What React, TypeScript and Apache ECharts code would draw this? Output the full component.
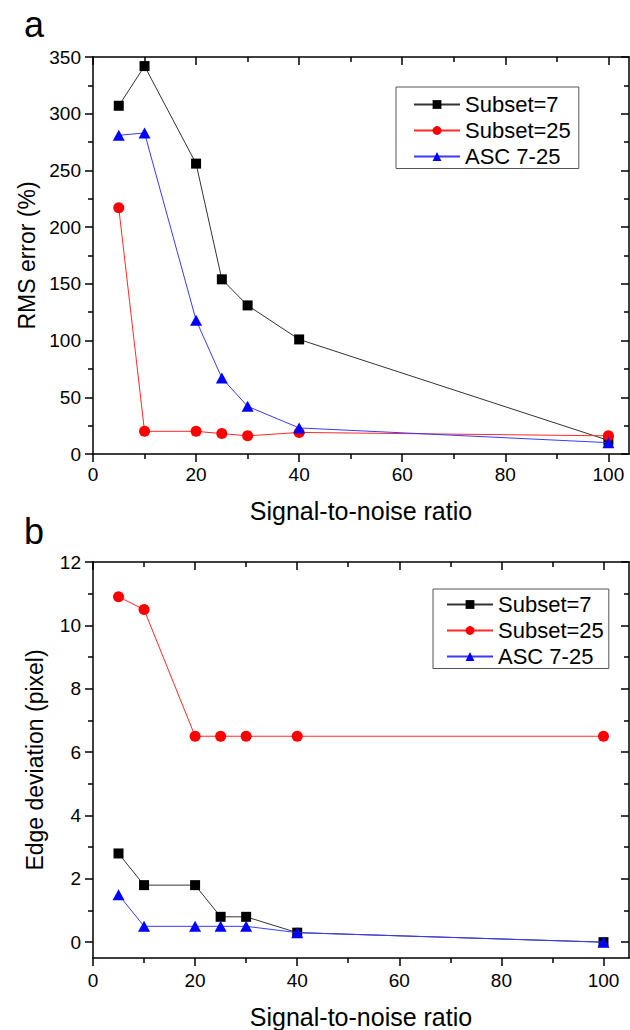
import React, { useEffect, useRef } from 'react';
import * as echarts from 'echarts';

// ---- data ----
const snr = [5, 10, 20, 25, 30, 40, 100];
const seriesNames = ['Subset=7', 'Subset=25', 'ASC 7-25'];
const rmsSubset7 = [307, 342, 256, 154, 131, 101, 12];
const rmsSubset25 = [217, 20, 20, 18, 16, 19, 16];
const rmsAsc = [281, 283, 118, 67, 42, 23, 10];
const edgeSubset7 = [2.8, 1.8, 1.8, 0.8, 0.8, 0.3, 0];
const edgeSubset25 = [10.9, 10.5, 6.5, 6.5, 6.5, 6.5, 6.5];
const edgeAsc = [1.5, 0.5, 0.5, 0.5, 0.5, 0.3, 0];

// ---- ticks ----
const xMajorTicks = [0, 20, 40, 60, 80, 100];
const xMinorTicks = [10, 30, 50, 70, 90];
const rmsMajorTicks = [0, 50, 100, 150, 200, 250, 300, 350];
const rmsMinorTicks = [25, 75, 125, 175, 225, 275, 325];
const edgeMajorTicks = [0, 2, 4, 6, 8, 10, 12];
const edgeMinorTicks = [1, 3, 5, 7, 9, 11];

const FONT = '"Liberation Sans", Arial, Helvetica, sans-serif';
const AXIS_W = 1.5;

function axisSet(dim: 'x' | 'y', gridIndex: number, min: number, max: number, majors: number[], minors: number[], name: string, nameGap: number, labelMargin: number) {
  const mainPos = dim === 'x' ? 'bottom' : 'left';
  const mirPos = dim === 'x' ? 'top' : 'right';
  const base = { type: 'value', gridIndex, min, max, splitLine: { show: false } };
  const line = { color: '#000', width: AXIS_W };
  return [
    {
      ...base,
      position: mainPos,
      axisLine: { show: true, onZero: false, lineStyle: line },
      axisTick: { show: true, inside: false, length: 8, customValues: majors, lineStyle: line },
      axisLabel: { show: true, customValues: majors, margin: labelMargin, fontSize: 19, color: '#000', fontFamily: FONT },
      name,
      nameLocation: 'middle',
      nameGap,
      nameTextStyle: { fontSize: dim === 'x' ? 25 : 23, color: '#000', fontFamily: FONT },
    },
    {
      ...base,
      position: mainPos,
      axisLine: { show: false, onZero: false },
      axisTick: { show: true, inside: false, length: 5, customValues: minors, lineStyle: line },
      axisLabel: { show: false },
    },
    {
      ...base,
      position: mirPos,
      axisLine: { show: true, onZero: false, lineStyle: line },
      axisTick: { show: true, inside: true, length: 8, customValues: majors, lineStyle: line },
      axisLabel: { show: false },
    },
    {
      ...base,
      position: mirPos,
      axisLine: { show: false, onZero: false },
      axisTick: { show: true, inside: true, length: 5, customValues: minors, lineStyle: line },
      axisLabel: { show: false },
    },
  ];
}

const styles = [
  { symbol: 'rect', symbolSize: 10, color: '#000000', line: '#333333' },
  { symbol: 'circle', symbolSize: 11, color: '#ff0000', line: '#ff2a2a' },
  { symbol: 'triangle', symbolSize: [12, 11], color: '#0000ff', line: '#3a3aff' },
];

function makeSeries(values: number[][], axisIndex: number) {
  return values.map((vals, i) => ({
    type: 'line',
    name: seriesNames[i],
    xAxisIndex: axisIndex,
    yAxisIndex: axisIndex,
    data: snr.map((x, j) => [x, vals[j]]),
    symbol: styles[i].symbol,
    symbolSize: styles[i].symbolSize,
    showAllSymbol: true,
    itemStyle: { color: styles[i].color },
    lineStyle: { color: styles[i].line, width: 1 },
    z: 3 + i,
  }));
}

function legendAt(left: number, top: number, padding: number[]) {
  return {
    orient: 'vertical',
    left,
    top,
    padding,
    itemGap: 4,
    itemWidth: 46,
    itemHeight: 11,
    borderColor: '#555',
    borderWidth: 1,
    backgroundColor: '#fff',
    data: seriesNames,
    textStyle: { fontSize: 22, color: '#000', fontFamily: FONT },
    selectedMode: false,
  };
}

export default function App() {
  const ref = useRef<HTMLDivElement>(null);
  useEffect(() => {
    if (!ref.current) return;
    const chart = echarts.init(ref.current, undefined, { renderer: 'svg' });
    const option = {
      animation: false,
      backgroundColor: '#fff',
      grid: [
        { left: 93, top: 57, width: 536, height: 397, containLabel: false },
        { left: 93, top: 562, width: 536, height: 396, containLabel: false },
      ],
      xAxis: [
        ...axisSet('x', 0, 0, 104, xMajorTicks, xMinorTicks, 'Signal-to-noise ratio', 44, 11),
        ...axisSet('x', 1, 0, 105, xMajorTicks, xMinorTicks, 'Signal-to-noise ratio', 46, 13),
      ],
      yAxis: [
        ...axisSet('y', 0, 0, 350, rmsMajorTicks, rmsMinorTicks, 'RMS error (%)', 55, 12),
        ...axisSet('y', 1, -0.5, 12, edgeMajorTicks, edgeMinorTicks, 'Edge deviation (pixel)', 47, 12),
      ],
      legend: [
        legendAt(396, 87, [6.5, 8, 1, 17]),
        legendAt(433, 589, [4.5, 5, 1, 13]),
      ],
      series: [
        ...makeSeries([rmsSubset7, rmsSubset25, rmsAsc], 0),
        ...makeSeries([edgeSubset7, edgeSubset25, edgeAsc], 4),
      ],
      graphic: [
        { type: 'text', left: 24, top: 6, style: { text: 'a', fontSize: 36, fontFamily: FONT, fill: '#000' } },
        { type: 'text', left: 24, top: 513, style: { text: 'b', fontSize: 36, fontFamily: FONT, fill: '#000' } },
      ],
    };
    chart.setOption(option as any);
    return () => chart.dispose();
  }, []);
  return <div ref={ref} style={{ position: 'fixed', left: 0, top: 0, width: 630, height: 1030 }} />;
}
